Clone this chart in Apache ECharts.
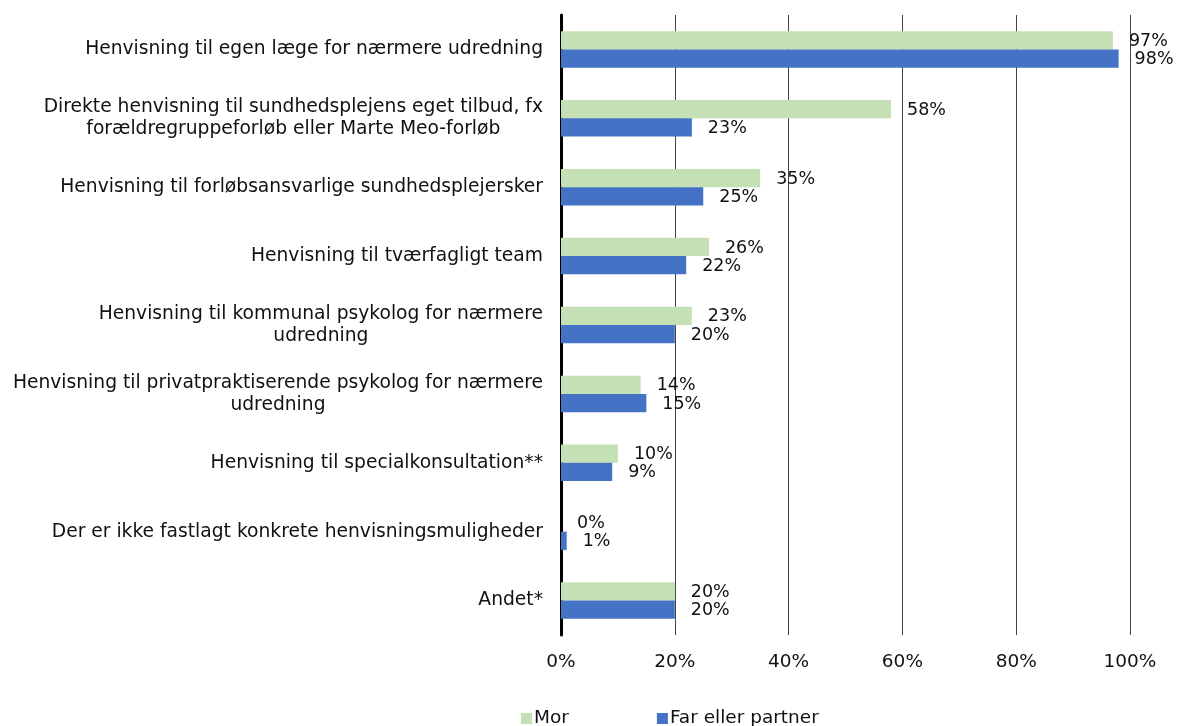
<!DOCTYPE html>
<html>
<head>
<meta charset="utf-8">
<script src="https://cdn.jsdelivr.net/npm/echarts@6/dist/echarts.min.js"></script>
<style>
  html, body { margin: 0; padding: 0; background: #fff; }
  #chart { width: 1179px; height: 726px; }
</style>
</head>
<body>
<div id="chart"></div>
<script>
// Categories, top to bottom
const categories = [
  'Henvisning til egen læge for nærmere udredning',
  'Direkte henvisning til sundhedsplejens eget tilbud, fx\nforældregruppeforløb eller Marte Meo-forløb',
  'Henvisning til forløbsansvarlige sundhedsplejersker',
  'Henvisning til tværfagligt team',
  'Henvisning til kommunal psykolog for nærmere\nudredning',
  'Henvisning til privatpraktiserende psykolog for nærmere\nudredning',
  'Henvisning til specialkonsultation**',
  'Der er ikke fastlagt konkrete henvisningsmuligheder',
  'Andet*'
];
const seriesNames = ['Mor', 'Far eller partner'];
const morValues = [97, 58, 35, 26, 23, 14, 10, 0, 20];
const farValues = [98, 23, 25, 22, 20, 15, 9, 1, 20];
const tickValues = [0, 20, 40, 60, 80, 100];

const FONT = '"DejaVu Sans", Verdana, sans-serif';
const FS = 18.5;
const chart = echarts.init(document.getElementById('chart'));

const labelStyle = {
  show: true,
  position: 'right',
  distance: 16,
  offset: [0, 1],
  formatter: p => p.value + '%',
  color: '#111',
  fontFamily: FONT,
  fontSize: 17.5
};

chart.setOption({
  animation: false,
  textStyle: { fontFamily: FONT },
  grid: { left: 561, right: 49, top: 15, bottom: 91, containLabel: false },
  legend: {
    data: seriesNames,
    left: 516,
    top: 704,
    itemWidth: 11,
    itemHeight: 11,
    itemGap: 88,
    icon: 'rect',
    textStyle: { fontFamily: FONT, fontSize: FS, color: '#111', padding: [0, 0, 0, -3] }
  },
  xAxis: {
    type: 'value',
    min: tickValues[0],
    max: tickValues[tickValues.length - 1],
    interval: 20,
    axisLine: { show: false },
    axisTick: { show: false },
    axisLabel: {
      formatter: v => v + '%',
      color: '#111',
      fontFamily: FONT,
      fontSize: FS,
      margin: 18
    },
    splitLine: { show: true, lineStyle: { color: '#444', width: 1 } }
  },
  yAxis: {
    type: 'category',
    data: categories,
    inverse: true,
    axisLine: { show: true, lineStyle: { color: '#000', width: 3 } },
    axisTick: { show: false },
    axisLabel: {
      margin: 18,
      align: 'right',
      lineHeight: 22,
      formatter: v => v.split('\n').map(s => '{c|' + s + '}').join('\n'),
      rich: {
        c: { align: 'center', fontFamily: FONT, fontSize: 18.7, color: '#111', lineHeight: 22 }
      }
    }
  },
  series: [
    {
      name: seriesNames[0],
      type: 'bar',
      data: morValues,
      barGap: '0%',
      barCategoryGap: '47%',
      itemStyle: { color: '#C5E0B4' },
      label: labelStyle
    },
    {
      name: seriesNames[1],
      type: 'bar',
      data: farValues,
      itemStyle: { color: '#4472C4' },
      label: labelStyle
    }
  ]
});
</script>
</body>
</html>
